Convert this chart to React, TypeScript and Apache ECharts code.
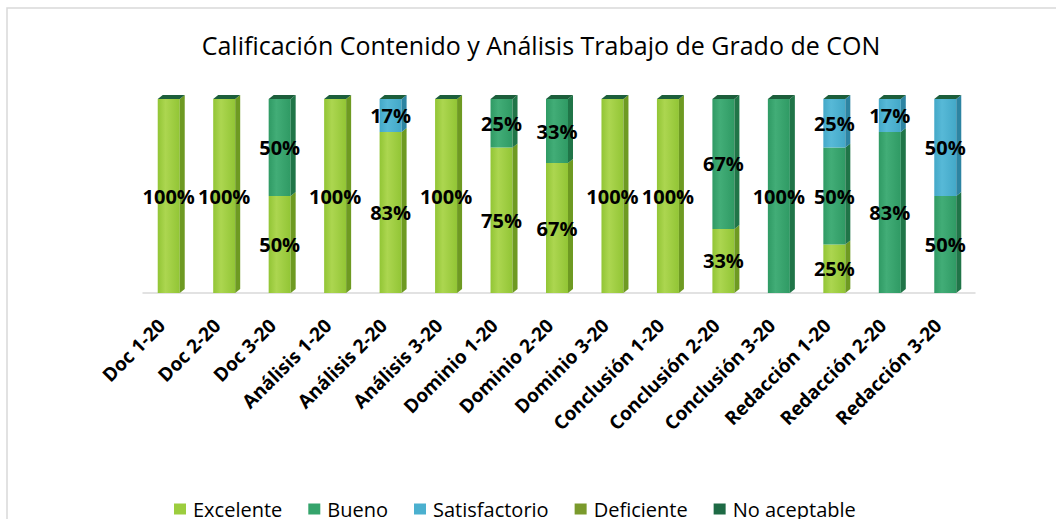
import React, { useEffect, useRef } from "react";
import * as echarts from "echarts";

const categories = [
  "Doc 1-20", "Doc 2-20", "Doc 3-20",
  "Análisis 1-20", "Análisis 2-20", "Análisis 3-20",
  "Dominio 1-20", "Dominio 2-20", "Dominio 3-20",
  "Conclusión 1-20", "Conclusión 2-20", "Conclusión 3-20",
  "Redacción 1-20", "Redacción 2-20", "Redacción 3-20",
];
const excelente = [100, 100, 50, 100, 83, 100, 75, 67, 100, 100, 33, 0, 25, 0, 0];
const bueno = [0, 0, 50, 0, 0, 0, 25, 33, 0, 0, 67, 100, 50, 83, 50];
const satisfactorio = [0, 0, 0, 0, 17, 0, 0, 0, 0, 0, 0, 0, 25, 17, 50];
const deficiente: number[] = [];
const noAceptable: number[] = [];

const titleText = "Calificación Contenido y Análisis Trabajo de Grado de CON";

const FONT = '"Open Sans", "Noto Sans", sans-serif';

type Look = { light: string; dark: string; side: string; legend: string };
const looks: Record<string, Look> = {
  Excelente: { light: "#acd650", dark: "#92c535", side: "#6e9a22", legend: "#9ccd3e" },
  Bueno: { light: "#42ad77", dark: "#2f9a64", side: "#207548", legend: "#35a46c" },
  Satisfactorio: { light: "#57b9d7", dark: "#43a8c8", side: "#2d84a2", legend: "#4bb0cf" },
  Deficiente: { light: "#86a632", dark: "#738f28", side: "#56701c", legend: "#7a9a2c" },
  "No aceptable": { light: "#23724b", dark: "#1c6340", side: "#124a2e", legend: "#1e6a45" },
};
const capColor = "#1c5e3b";

function makeSeries(name: string, values: number[], bases: number[]) {
  const look = looks[name];
  const data = values.map((v, i) => [i, bases[i] || 0, v]);
  return {
    name,
    type: "custom",
    coordinateSystem: "cartesian2d",
    itemStyle: { color: look.legend },
    encode: { x: 0, y: 2 },
    data,
    renderItem: (params: any, api: any) => {
      const i = api.value(0);
      const b = api.value(1);
      const v = api.value(2);
      if (!v) return null;
      const p0 = api.coord([i, b]);
      const p1 = api.coord([i, b + v]);
      const cx = p0[0] - 2;
      const w = 22;
      const dx = 5;
      const dy = 4;
      const xl = cx - w / 2;
      const xr = cx + w / 2;
      const yT = p1[1];
      const yB = p0[1];
      const children: any[] = [
        {
          type: "rect",
          shape: { x: xl, y: yT, width: w, height: yB - yT },
          style: {
            fill: new echarts.graphic.LinearGradient(0, 0, 1, 0, [
              { offset: 0, color: look.dark },
              { offset: 0.35, color: look.light },
              { offset: 1, color: look.dark },
            ]),
          },
        },
        {
          type: "polygon",
          shape: { points: [[xr, yT], [xr + dx, yT - dy], [xr + dx, yB - dy], [xr, yB]] },
          style: { fill: look.side },
        },
      ];
      if (b + v >= 99.5) {
        children.push({
          type: "polygon",
          shape: { points: [[xl, yT], [xl + dx, yT - dy], [xr + dx, yT - dy], [xr, yT]] },
          style: { fill: capColor },
        });
      }
      children.push({
        type: "text",
        z2: 100,
        style: {
          text: v + "%",
          x: cx,
          y: (yT + yB) / 2,
          align: "center",
          verticalAlign: "middle",
          fill: "#000",
          font: `bold 20px ${FONT}`,
        },
      });
      return { type: "group", children };
    },
  };
}

export default function App() {
  const ref = useRef<HTMLDivElement>(null);
  useEffect(() => {
    document.body.style.margin = "0";
    if (!ref.current) return;
    const chart = echarts.init(ref.current, null, { renderer: "svg" });
    const baseB = excelente.map((e) => e);
    const baseS = excelente.map((e, i) => e + bueno[i]);
    const zeros = categories.map(() => 0);
    chart.setOption({
      animation: false,
      backgroundColor: "#fff",
      title: {
        text: titleText,
        left: 536,
        top: 27,
        textAlign: "center",
        textStyle: { fontFamily: FONT, fontSize: 25, fontWeight: "normal", color: "#000" },
      },
      graphic: [
        {
          type: "rect",
          shape: { x: 7, y: 8, width: 1200, height: 700 },
          style: { fill: "none", stroke: "#d9d9d9", lineWidth: 1.5 },
          silent: true,
          z: -10,
        },
      ],
      legend: {
        left: 169,
        top: 494,
        itemWidth: 12,
        itemHeight: 11,
        itemGap: 26,
        icon: "rect",
        textStyle: { fontFamily: FONT, fontSize: 20, color: "#000", padding: [0, 0, 10, 2] },
        data: ["Excelente", "Bueno", "Satisfactorio", "Deficiente", "No aceptable"],
      },
      grid: { left: 143, right: 81, top: 99, bottom: 226 },
      xAxis: {
        type: "category",
        data: categories,
        offset: 4,
        axisTick: { show: false },
        axisLine: { lineStyle: { color: "#d9d9d9", width: 1.5 } },
        axisLabel: {
          interval: 0,
          rotate: 45,
          margin: 16,
          padding: [0, 13, 0, 0],
          color: "#000",
          fontFamily: FONT,
          fontWeight: "bold",
          fontSize: 19,
        },
      },
      yAxis: { type: "value", min: 0, max: 100, show: false },
      series: [
        makeSeries("Excelente", excelente, zeros),
        makeSeries("Bueno", bueno, baseB),
        makeSeries("Satisfactorio", satisfactorio, baseS),
        makeSeries("Deficiente", deficiente, zeros),
        makeSeries("No aceptable", noAceptable, zeros),
      ],
    });
    return () => chart.dispose();
  }, []);
  return <div ref={ref} style={{ width: 1056, height: 519 }} />;
}
